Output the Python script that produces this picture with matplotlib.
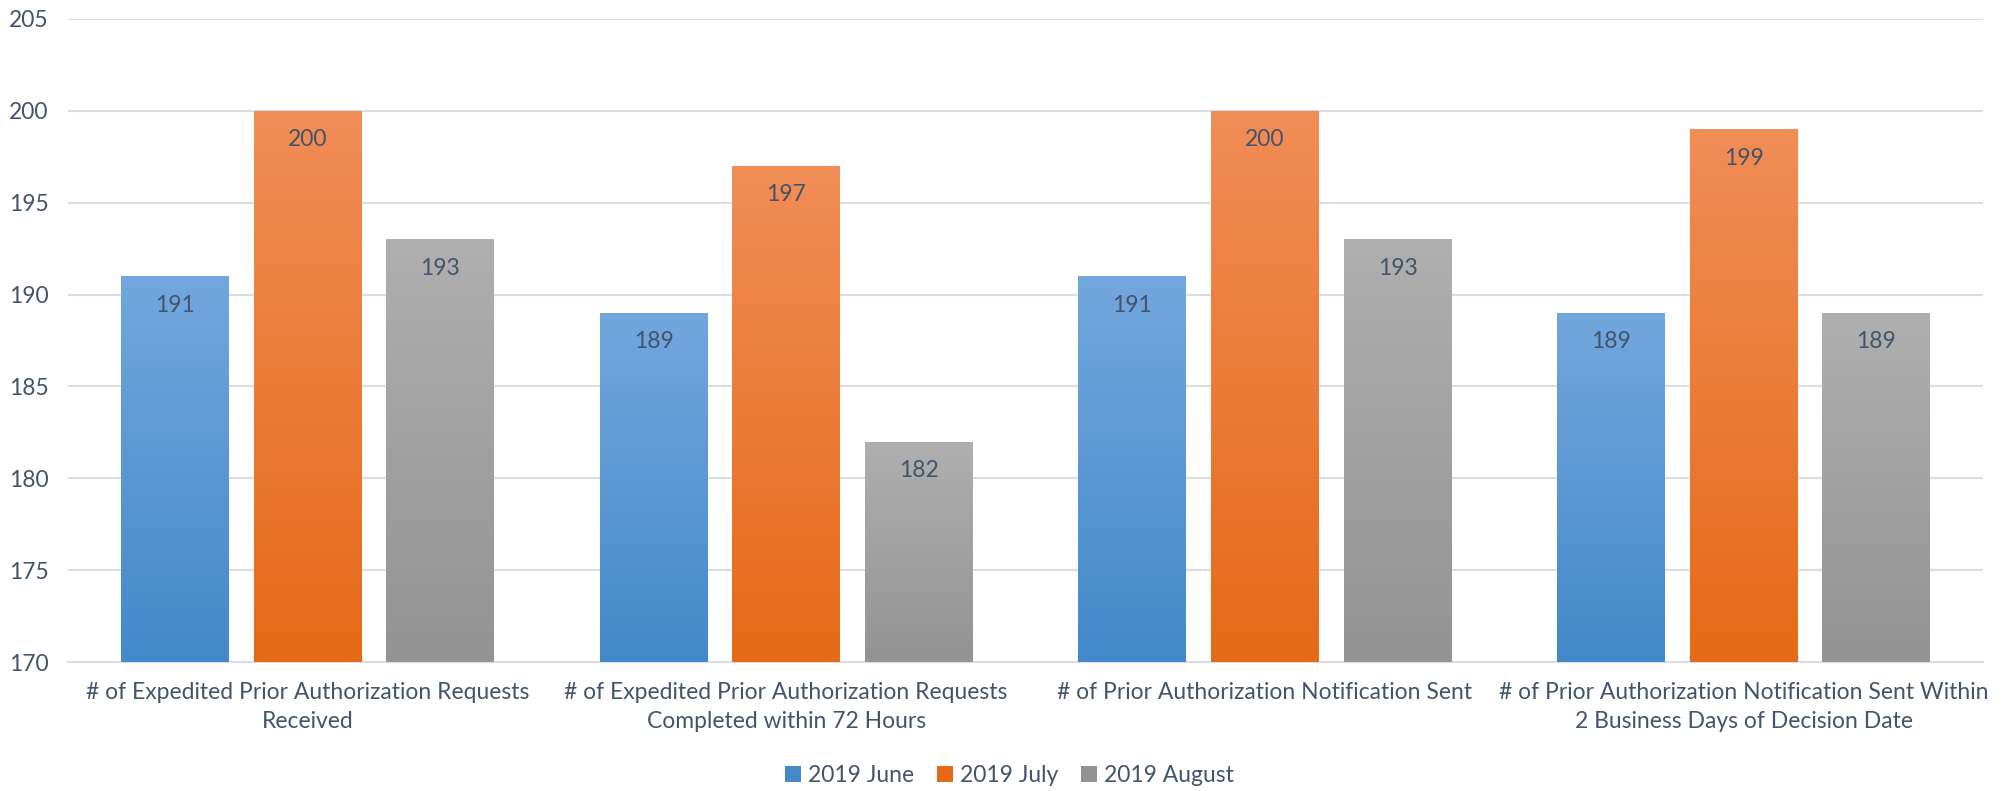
import numpy as np
import matplotlib
matplotlib.use("Agg")
import matplotlib.pyplot as plt
from matplotlib.colors import LinearSegmentedColormap
from matplotlib.patches import Patch

categories = [
    "# of Expedited Prior Authorization Requests\nReceived",
    "# of Expedited Prior Authorization Requests\nCompleted within 72 Hours",
    "# of Prior Authorization Notification Sent",
    "# of Prior Authorization Notification Sent Within\n2 Business Days of Decision Date",
]
series_names = ["2019 June", "2019 July", "2019 August"]
june = [191, 189, 191, 189]
july = [200, 197, 200, 199]
august = [193, 182, 193, 189]
y_ticks = [170, 175, 180, 185, 190, 195, 200, 205]

# top / bottom colours of each series' vertical gradient
gradients = [
    ("#72A7DD", "#4389CA"),
    ("#F18D57", "#E56A17"),
    ("#AFAFAF", "#939393"),
]
text_color = "#44546A"
grid_color = "#D9DEE6"
fs = 16.5

plt.rcParams["font.family"] = ["Lato", "DejaVu Sans"]

fig = plt.figure(figsize=(20.03, 7.91), dpi=100)
ax = fig.add_axes([0.034, 0.163, 0.956, 0.813])

x = np.arange(len(categories))
width = 0.225
step = 0.277
values = [june, july, august]
ymin, ymax = y_ticks[0], y_ticks[-1]

for i, (vals, name, (ctop, cbot)) in enumerate(zip(values, series_names, gradients)):
    pos = x + (i - 1) * step
    bars = ax.bar(pos, vals, width=width, color=ctop, zorder=2, label=name)
    cmap = LinearSegmentedColormap.from_list(name, [cbot, ctop])
    grad = np.linspace(0, 1, 256).reshape(-1, 1)
    for rect, v in zip(bars, vals):
        x0 = rect.get_x()
        im = ax.imshow(grad, cmap=cmap, origin="lower", aspect="auto",
                       extent=[x0, x0 + rect.get_width(), ymin, v], zorder=3)
        im.set_clip_path(rect)
        ax.annotate(f"{v}", xy=(rect.get_x() + rect.get_width() / 2, v),
                    xytext=(0, -29), textcoords="offset pixels",
                    ha="center", va="center", fontsize=fs, color=text_color,
                    zorder=4)

ax.set_xlim(-0.5, len(categories) - 0.5)
ax.set_ylim(ymin, ymax)
ax.set_yticks(y_ticks)
ax.set_xticks(x)
ax.set_xticklabels(categories, fontsize=fs, color=text_color, linespacing=1.5)
ax.tick_params(axis="y", labelsize=fs, labelcolor=text_color, length=0, pad=14)
ax.tick_params(axis="x", length=0, pad=14)
ax.grid(axis="y", color=grid_color, linewidth=1.5, zorder=0)
ax.set_axisbelow(True)
for side in ["top", "right", "left"]:
    ax.spines[side].set_visible(False)
ax.spines["bottom"].set_color(grid_color)
ax.spines["bottom"].set_linewidth(1.5)

handles = [Patch(facecolor=c[1], label=n) for n, c in zip(series_names, gradients)]
fig.legend(handles=handles, loc="center", bbox_to_anchor=(0.504, 0.019), ncol=3,
           frameon=False, fontsize=fs, labelcolor=text_color,
           handlelength=0.7, handleheight=0.7, handletextpad=0.3,
           columnspacing=1.0)

fig.savefig("out.png", dpi=100)
